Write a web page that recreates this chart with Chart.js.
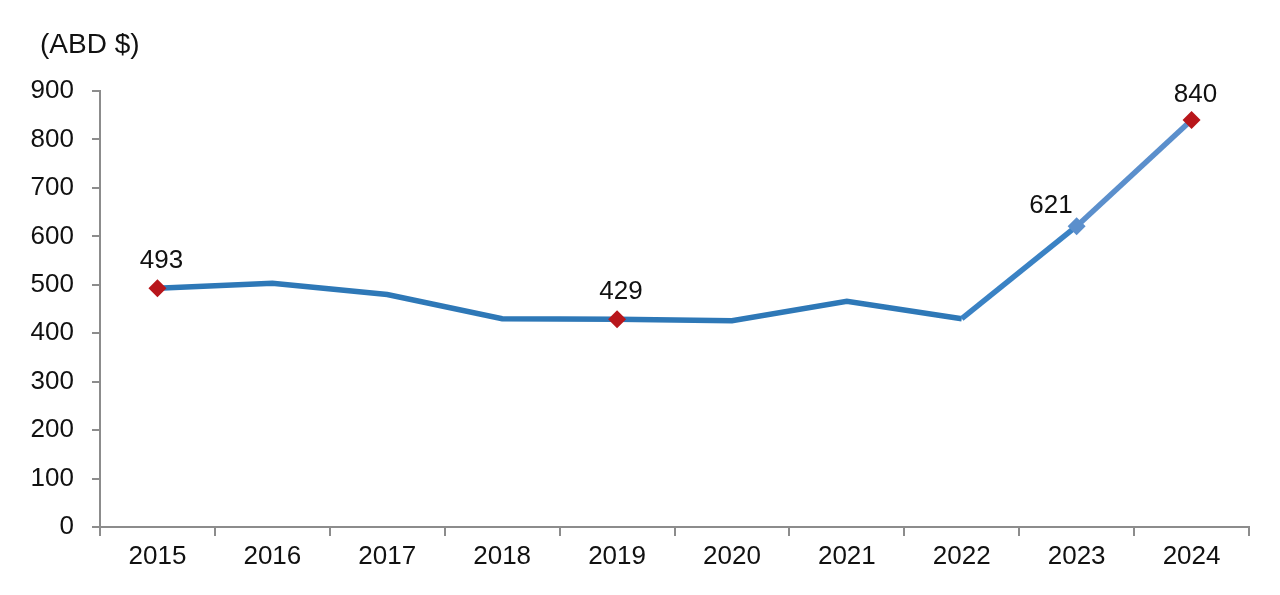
<!DOCTYPE html>
<html>
<head>
<meta charset="utf-8">
<title>ABD $</title>
<script src="https://cdn.jsdelivr.net/npm/chart.js@4.4.1/dist/chart.umd.min.js"></script>
<style>
    html, body { margin: 0; padding: 0; background: #fff; }
    #wrap { width: 1280px; height: 595px; }
</style>
</head>
<body>
<div id="wrap"><canvas id="mainChart"></canvas></div>
<script>
// values
var years = ['2015', '2016', '2017', '2018', '2019', '2020', '2021', '2022', '2023', '2024'];
var prices = [493, 503, 480, 430, 429, 426, 466, 430, 621, 840];
var labelledYears = ['2015', '2019', '2023', '2024'];
var yTicks = [0, 100, 200, 300, 400, 500, 600, 700, 800, 900];
var unitText = '(ABD $)';

var lineBlue = '#2e78b7';
var lightBlue = '#5b8fcc';
var markRed = '#b8161b';
var axisGray = '#8c8c8c';
var fontFamily = '"Liberation Sans", Arial, sans-serif';

function isLabelled(i) {
    return labelledYears.indexOf(years[i]) !== -1;
}

// unit text above the y axis + values above the marked points
var valueLabels = {
    id: 'valueLabels',
    afterDatasetsDraw: function (chart) {
        var ctx = chart.ctx;
        var meta = chart.getDatasetMeta(0);
        ctx.save();
        ctx.fillStyle = '#111';
        ctx.textBaseline = 'middle';

        ctx.font = '28px ' + fontFamily;
        ctx.textAlign = 'left';
        ctx.fillText(unitText, chart.chartArea.left - 60, 45);

        ctx.font = '26px ' + fontFamily;
        meta.data.forEach(function (pt, i) {
            if (!isLabelled(i)) return;
            // 2023 label sits left of its point
            if (years[i] === '2023') {
                ctx.textAlign = 'right';
                ctx.fillText(prices[i], pt.x - 4, pt.y - 20);
            } else {
                ctx.textAlign = 'center';
                ctx.fillText(prices[i], pt.x + 4, i === years.length - 1 ? pt.y - 25 : pt.y - 27);
            }
        });
        ctx.restore();
    }
};

var mainChart = new Chart(document.getElementById('mainChart'), {
    type: 'line',
    data: {
        labels: years,
        datasets: [{
            label: 'ABD $',
            data: prices,
            borderColor: lineBlue,
            borderWidth: 5.5,
            tension: 0,
            fill: false,
            segment: {
                borderColor: function (c) {
                    if (c.p0DataIndex === 8) return lightBlue;
                    if (c.p0DataIndex === 7) return '#3a82c4';
                    return lineBlue;
                }
            },
            pointStyle: 'rectRot',
            pointRadius: function (c) { return isLabelled(c.dataIndex) ? 9 : 0; },
            pointHoverRadius: 0,
            pointBorderWidth: 0,
            pointBackgroundColor: function (c) { return years[c.dataIndex] === '2023' ? lightBlue : markRed; },
            pointBorderColor: function (c) { return years[c.dataIndex] === '2023' ? lightBlue : markRed; }
        }]
    },
    options: {
        responsive: true,
        maintainAspectRatio: false,
        animation: false,
        layout: {
            padding: { top: 91, left: 0, right: 31, bottom: 0 }
        },
        plugins: {
            legend: { display: false },
            tooltip: { enabled: false },
            title: { display: false }
        },
        scales: {
            x: {
                offset: true,
                grid: {
                    offset: true,
                    drawOnChartArea: false,
                    drawTicks: true,
                    tickLength: 9,
                    tickColor: axisGray,
                    lineWidth: 2
                },
                border: { color: axisGray, width: 2 },
                ticks: {
                    color: '#111',
                    padding: 5,
                    font: { family: fontFamily, size: 26 },
                    maxRotation: 0
                },
                afterFit: function (scale) { scale.height = 68; }
            },
            y: {
                min: 0,
                max: 900,
                afterBuildTicks: function (scale) {
                    scale.ticks = yTicks.map(function (v) { return { value: v }; });
                },
                grid: {
                    drawOnChartArea: false,
                    drawTicks: true,
                    tickLength: 8,
                    tickColor: axisGray,
                    lineWidth: 2
                },
                border: { color: axisGray, width: 2 },
                ticks: {
                    color: '#111',
                    padding: 18,
                    font: { family: fontFamily, size: 26 }
                },
                afterFit: function (scale) { scale.width = 100; }
            }
        }
    },
    plugins: [valueLabels]
});
</script>
</body>
</html>
